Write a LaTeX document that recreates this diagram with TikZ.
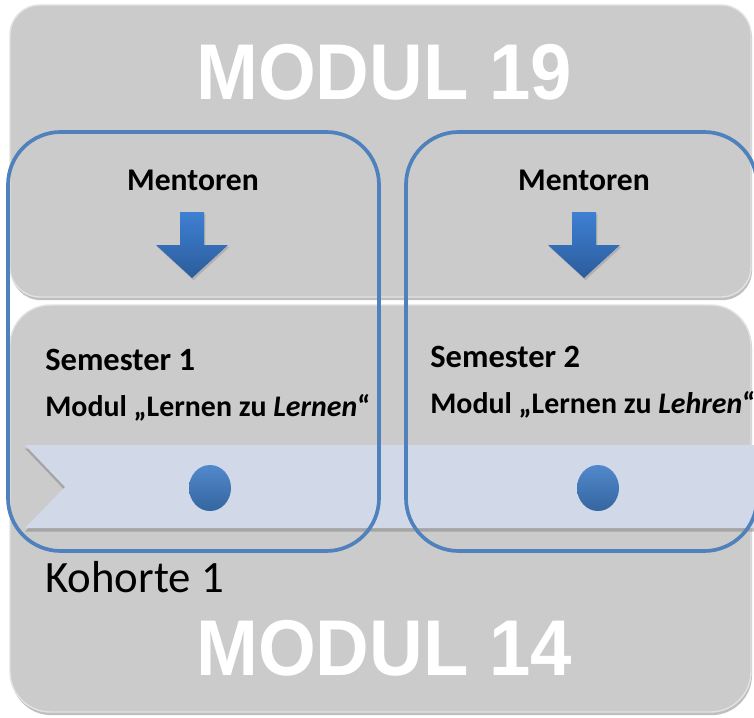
\documentclass[tikz,border=0pt]{standalone}
\usepackage{fontspec}
\setmainfont{Carlito}
\newfontfamily\headfont{Liberation Sans}
\usetikzlibrary{shadows}
\definecolor{boxgray}{HTML}{CBCBCB}
\definecolor{boxedge}{HTML}{E2E2E2}
\definecolor{bandblue}{HTML}{D1D9E8}
\definecolor{rimblue}{HTML}{4F81BD}
\definecolor{arrowtop}{HTML}{3E80D2}
\definecolor{arrowbot}{HTML}{2C5C9C}
\definecolor{dottop}{HTML}{5289CC}
\definecolor{dotbot}{HTML}{34669F}
\begin{document}
\begin{tikzpicture}[x=0.02cm, y=-0.02cm,
  modbox/.style={fill=boxgray, draw=boxedge, line width=0.8pt,
    drop shadow={shadow xshift=0.6pt, shadow yshift=-1.8pt, opacity=0.5}},
  rim/.style={draw=rimblue, line width=2.1pt, rounded corners=30pt},
  arrowfill/.style={top color=arrowtop, bottom color=arrowbot,
    drop shadow={shadow xshift=0.8pt, shadow yshift=-1.2pt, opacity=0.35}},
  dot/.style={top color=dottop, bottom color=dotbot},
  headtxt/.style={font=\headfont\bfseries\fontsize{45}{48}\selectfont, text=white,
    inner sep=0pt, xscale=0.94},
  mentor/.style={font=\bfseries\fontsize{18}{20}\selectfont, inner sep=0pt},
  semtxt/.style={font=\bfseries\fontsize{18.5}{21}\selectfont, anchor=base west, inner sep=0pt},
  modtxt/.style={font=\bfseries\fontsize{17}{20}\selectfont, anchor=base west, inner sep=0pt}]
    \useasboundingbox (0,0) rectangle (754,717);
    % the two module boxes
    \path[modbox, rounded corners=17pt] (10,5) rectangle (751,297);
    \path[modbox, rounded corners=23pt] (10,305) rectangle (751,712);
    % timeline band with notch
    \fill[bandblue, drop shadow={shadow xshift=0pt, shadow yshift=-2pt, opacity=0.5}]
        (25,445) -- (756,445) -- (756,528) -- (25,528) -- (65,487) -- cycle;
    \shade[dot] (210,488) ellipse (21 and 23);
    \shade[dot] (598,488) ellipse (21 and 23);
    % mentor arrows
    \foreach \cx in {192,584}
        \shade[arrowfill] (\cx-12,212) -- (\cx+12,212) -- (\cx+12,245) -- (\cx+36,245)
            -- (\cx,278) -- (\cx-36,245) -- (\cx-12,245) -- cycle;
    \node[headtxt] (mod19) at (384,72) {MODUL 19};
    \node[headtxt] (mod14) at (384,648) {MODUL 14};
    \node[mentor] (ment1) at (193,180) {Mentoren};
    \node[mentor] (ment2) at (584,180) {Mentoren};
    \node[semtxt] (sem1) at (45,370) {Semester 1};
    \node[semtxt] (sem2) at (430,367) {Semester 2};
    \node[modtxt] (lern1) at (45,416) {Modul „Lernen zu \textit{Lernen}“};
    \node[modtxt] (lern2) at (430,413) {Modul „Lernen zu \textit{Lehren}“};
    \node[anchor=base west, inner sep=0pt, font=\fontsize{25.5}{28}\selectfont] (koh) at (45,592) {Kohorte 1};
    % semester frames
    \draw[rim] (8,132) rectangle (379,551);
    \draw[rim] (406,132) rectangle (757,551);
\end{tikzpicture}
\end{document}
